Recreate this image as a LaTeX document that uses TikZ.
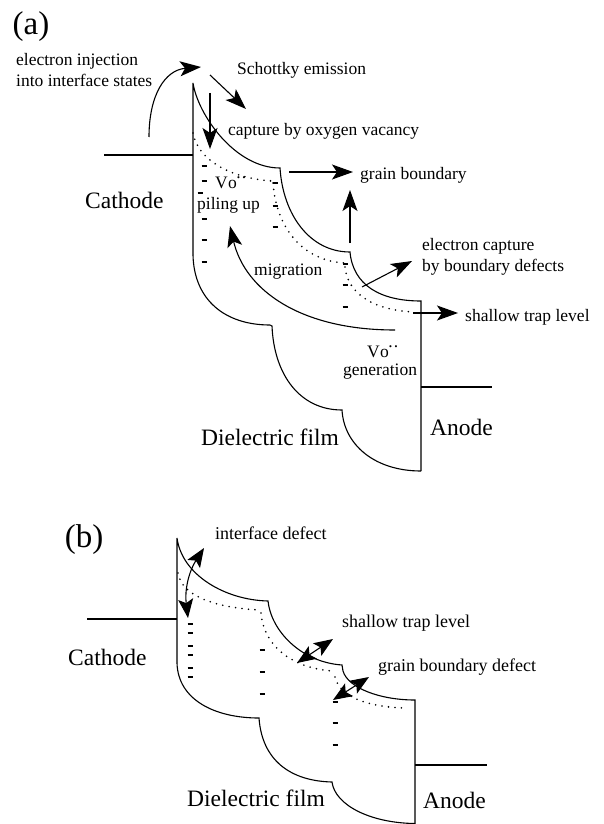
\documentclass[tikz,border=0pt]{standalone}
\usepackage{fontspec}
\setmainfont{Liberation Serif}
\usetikzlibrary{arrows.meta}
\begin{document}
\begin{tikzpicture}[x=1pt,y=-1pt,
  band/.style={line width=1.1pt},
  trap/.style={line width=1.8pt, dash pattern=on 0pt off 6.5pt, line cap=round},
  ele/.style={line width=1.2pt},
  arr/.style={line width=1.1pt, -{Stealth[length=21pt,width=15pt,inset=5pt]}},
  darr/.style={line width=1.1pt, {Stealth[length=19pt,width=15pt,inset=4pt]}-{Stealth[length=19pt,width=15pt,inset=4pt]}},
  sm/.style={inner sep=0pt, anchor=west, font=\fontsize{17.5}{20}\selectfont},
  smb/.style={inner sep=0pt, anchor=west, font=\fontsize{18}{21}\selectfont},
  lg/.style={inner sep=0pt, anchor=west, font=\fontsize{23.5}{27}\selectfont},
  tag/.style={inner sep=0pt, font=\fontsize{33}{36}\selectfont}]
\useasboundingbox (0,0) rectangle (604,824);
\newcommand{\vodots}{V\kern0.3pt o\rlap{\kern-0.5pt\raisebox{0.55em}{.\kern1pt.}}}
%================ panel (a) ================
% electrodes
\coordinate (aCL) at (104,155); \coordinate (aCR) at (193,155);
\coordinate (aAL) at (421,387); \coordinate (aAR) at (492,387);
\draw[band] (aCL) -- (aCR);
\draw[band] (aAL) -- (aAR);
% conduction band edge and film outline
\draw[band] (193,255) -- (193,83) .. controls (198,115) and (235,168) .. (280,168)
  .. controls (283,215) and (310,252) .. (350,252)
  .. controls (353,285) and (380,301) .. (421,301) -- (421,471);
% valence band edge
\draw[band] (193,255) .. controls (194,300) and (225,325) .. (270,325)
  -- (272,326) .. controls (274,375) and (300,410) .. (342,410)
  .. controls (344,445) and (375,471) .. (421,471);
% trap levels (dotted)
\draw[trap] (193,133) .. controls (198,160) and (230,178) .. (272,181);
\draw[trap] (273,183) .. controls (276,225) and (300,260) .. (344,263);
\draw[trap] (345,267) .. controls (348,295) and (375,310) .. (413,312);
% trapped electrons
\foreach \x/\y in {204/166,204/181,200/193,204/219,204/240,204/262,
                   275/183,275/206,275/227,345/264,345/285,345/307}
  \draw[ele] (\x-2.5,\y) -- (\x+2.5,\y);
% arrows
\coordinate (a1s) at (149,137); \coordinate (a1e) at (201,67);
\draw[arr] (a1s) .. controls (149,95) and (165,70) .. (a1e);
\coordinate (a2s) at (210,75); \coordinate (a2e) at (246,109);
\draw[arr] (a2s) -- (a2e);
\coordinate (a3s) at (210,93); \coordinate (a3e) at (210,149);
\draw[arr] (a3s) -- (a3e);
\coordinate (a4s) at (289,172); \coordinate (a4e) at (353,172);
\draw[arr] (a4s) -- (a4e);
\coordinate (a5s) at (350,243); \coordinate (a5e) at (350,190);
\draw[arr] (a5s) -- (a5e);
\coordinate (a6s) at (362,287); \coordinate (a6e) at (412,261);
\draw[arr] (a6s) -- (a6e);
\coordinate (a7s) at (413,313); \coordinate (a7e) at (458,313);
\draw[arr] (a7s) -- (a7e);
\coordinate (a8s) at (395,330); \coordinate (a8e) at (230,226);
\draw[arr] (a8s) .. controls (300,330) and (245,290) .. (a8e);
% labels
\node[tag] (ta) at (31,27) {(a)};
\node[sm] (t1) at (16,61) {electron injection};
\node[sm] (t2) at (16,80) {into interface states};
\node[sm] (t3) at (237,70) {Schottky emission};
\node[sm] (t4) at (228,131) {capture by oxygen vacancy};
\node[sm] (t5) at (360,175) {grain boundary};
\node[lg] (t6) at (85,200) {Cathode};
\node[sm] (t7) at (215,183) {\vodots};
\node[sm] (t8) at (197,205) {piling up};
\node[sm] (t9) at (254,272) {migration};
\node[sm] (t10) at (422,246) {electron capture};
\node[sm] (t11) at (422,267) {by boundary defects};
\node[sm] (t12) at (465,317) {shallow trap level};
\node[sm] (t13) at (367,352) {\vodots};
\node[sm] (t14) at (343,372) {generation};
\node[lg] (t15) at (201,437) {Dielectric film};
\node[lg] (t16) at (430,427) {Anode};
%================ panel (b) ================
\coordinate (bCL) at (87,619); \coordinate (bCR) at (177,619);
\coordinate (bAL) at (415,765); \coordinate (bAR) at (487,765);
\draw[band] (bCL) -- (bCR);
\draw[band] (bAL) -- (bAR);
\draw[band] (177,663) -- (177,538) .. controls (182,575) and (225,600) .. (268,601)
  .. controls (271,630) and (300,662) .. (342,665) -- (343,671)
  .. controls (348,688) and (380,700) .. (415,700) -- (415,824);
\draw[band] (177,663) .. controls (178,700) and (215,718) .. (259,718)
  .. controls (262,760) and (290,781) .. (332,782)
  .. controls (335,805) and (370,823) .. (415,823.5);
\draw[trap] (178,573) .. controls (182,598) and (220,608) .. (260,610);
\draw[trap] (261,613) .. controls (264,648) and (295,669) .. (334,671);
\draw[trap] (335,677) .. controls (340,698) and (370,707) .. (405,708);
\foreach \x/\y in {190/624,190/633,190/646,190/655,190/668,190/677,
                   262/650,262/672,262/694,335/702,335/723,335/745}
  \draw[ele] (\x-2.5,\y) -- (\x+2.5,\y);
\coordinate (b1s) at (188,618); \coordinate (b1e) at (204,548);
\draw[darr] (b1s) to[bend left=20] (b1e);
\coordinate (b2s) at (297,663); \coordinate (b2e) at (333,639);
\draw[darr] (b2s) -- (b2e);
\coordinate (b3s) at (333,700); \coordinate (b3e) at (369,677);
\draw[darr] (b3s) -- (b3e);
\node[tag] (tb) at (84,540) {(b)};
\node[smb] (u1) at (215,533) {interface defect};
\node[lg] (u2) at (68,657) {Cathode};
\node[smb] (u3) at (342,623) {shallow trap level};
\node[smb] (u4) at (378,667) {grain boundary defect};
\node[lg] (u5) at (187,798) {Dielectric film};
\node[lg] (u6) at (423,800) {Anode};
\end{tikzpicture}
\end{document}
